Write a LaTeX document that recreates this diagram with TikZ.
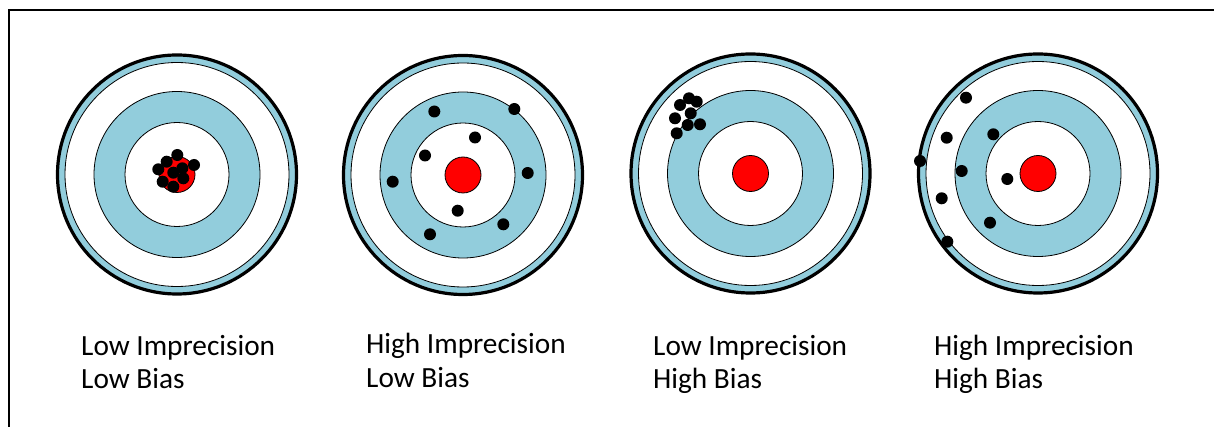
\documentclass[tikz,border=0pt]{standalone}
\usepackage{fontspec}
\setmainfont{Carlito}
\definecolor{ringblue}{RGB}{146,205,220}
\definecolor{bullred}{RGB}{255,0,0}
\begin{document}
\begin{tikzpicture}[x=1pt,y=-1pt,
  outerring/.style={fill=ringblue,draw=black,line width=3.2pt},
  thinring/.style={draw=black,line width=0.8pt},
  hit/.style={fill=black},
  lbl/.style={anchor=base west,inner sep=0pt,font=\fontsize{29.3pt}{34pt}\selectfont}]
\useasboundingbox (0,0) rectangle (1214,427);
\fill[white] (0,0) rectangle (1214,427);
% frame
\draw[line width=2pt] (8.5,427) -- (8.5,10.5) -- (1214,10.5);
% targets
\foreach \cx/\cy/\n in {177/174.5/a, 463/175/b, 750.5/173.5/c, 1038/173.5/d}{
  \coordinate (t\n) at (\cx,\cy);
  \draw[outerring] (t\n) circle[radius=119.5pt];
  \filldraw[thinring,fill=white] (t\n) circle[radius=112pt];
  \filldraw[thinring,fill=ringblue] (t\n) circle[radius=83pt];
  \filldraw[thinring,fill=white] (t\n) circle[radius=52pt];
  \filldraw[thinring,fill=bullred] (t\n) circle[radius=18pt];
}
% target 1 hits
\foreach \x/\y in {177.3/155, 166.7/161.7, 158.3/169.3, 194/165, 182.3/168.3, 173.3/172.7, 183.3/178.3, 162.7/181.7, 173.3/186.7}
  \fill[hit] (\x,\y) circle[radius=6pt];
% target 2 hits
\foreach \x/\y in {434.3/111.5, 514.3/109, 475/137.5, 425/155.5, 527.7/173, 392.7/181.7, 457.7/210.7, 503.3/224.3, 430/234.3}
  \fill[hit] (\x,\y) circle[radius=6pt];
% target 3 hits
\foreach \x/\y in {680/105, 689/98.3, 696.7/101.7, 690.7/113.3, 675/118.3, 687.7/125, 700/124.3, 676.7/133.3}
  \fill[hit] (\x,\y) circle[radius=6pt];
% target 4 hits
\foreach \x/\y in {966/97.7, 993.3/134.3, 946.7/137.7, 920/161, 961.7/171, 1007.3/179, 941.7/198.3, 990/222.7, 947.3/241.7}
  \fill[hit] (\x,\y) circle[radius=6pt];
% labels
\node[lbl] (l1a) at (81,355) {Low Imprecision};
\node[lbl] (l1b) at (81,388) {Low Bias};
\node[lbl] (l2a) at (366,353) {High Imprecision};
\node[lbl] (l2b) at (366,387) {Low Bias};
\node[lbl] (l3a) at (653,355) {Low Imprecision};
\node[lbl] (l3b) at (653,388) {High Bias};
\node[lbl] (l4a) at (934,355) {High Imprecision};
\node[lbl] (l4b) at (934,388) {High Bias};
\end{tikzpicture}
\end{document}
